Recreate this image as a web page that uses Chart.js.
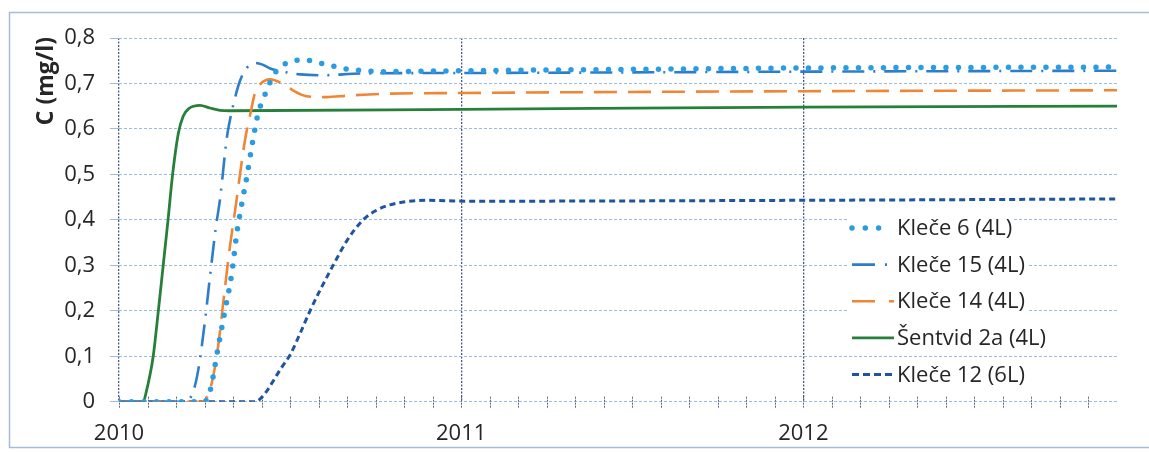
<!DOCTYPE html>
<html>
<head>
<meta charset="utf-8">
<script src="https://cdn.jsdelivr.net/npm/chart.js@4/dist/chart.umd.min.js"></script>
<style>
  html, body { margin: 0; padding: 0; background: #ffffff; }
  canvas { display: block; }
</style>
</head>
<body>
<canvas id="chart" width="1149" height="452"></canvas>
<script>
// Time axis is measured in months since 1 January 2010.
const yearLabels = ['2010', '2011', '2012'];
const yTickLabels = ['0', '0,1', '0,2', '0,3', '0,4', '0,5', '0,6', '0,7', '0,8'];
const seriesNames = ['Kleče 6 (4L)', 'Kleče 15 (4L)', 'Kleče 14 (4L)', 'Šentvid 2a (4L)', 'Kleče 12 (6L)'];

const klece6Months = [0, 3.0, 3.2, 3.45, 3.7, 3.95, 4.13, 4.32, 4.48, 4.71, 4.89, 5.06, 5.24, 5.45, 5.79, 6.24, 6.59, 7.05, 7.46, 7.87, 8.39, 9.33, 12, 18, 24, 35];
const klece6Conc   = [0, 0, 0.025, 0.11, 0.195, 0.28, 0.37, 0.44, 0.494, 0.58, 0.637, 0.666, 0.694, 0.721, 0.742, 0.751, 0.751, 0.745, 0.739, 0.733, 0.729, 0.726, 0.728, 0.731, 0.734, 0.736];

const klece15Months = [0, 2.32, 2.59, 2.78, 3.02, 3.19, 3.40, 3.54, 3.78, 3.86, 4.13, 4.25, 4.48, 4.77, 5.01, 5.3, 5.75, 6.35, 7.16, 8.46, 12, 24, 35];
const klece15Conc   = [0, 0, 0.02, 0.07, 0.18, 0.275, 0.385, 0.444, 0.58, 0.61, 0.683, 0.707, 0.734, 0.745, 0.742, 0.733, 0.726, 0.72, 0.718, 0.722, 0.723, 0.726, 0.728];

const klece14Months = [0, 2.90, 3.19, 3.45, 3.72, 3.89, 4.07, 4.42, 4.59, 4.77, 4.95, 5.18, 5.30, 5.77, 6.1, 6.58, 7.28, 7.99, 9.16, 12, 24, 35];
const klece14Conc   = [0, 0, 0.026, 0.11, 0.253, 0.341, 0.42, 0.576, 0.628, 0.679, 0.698, 0.708, 0.709, 0.698, 0.685, 0.672, 0.670, 0.673, 0.677, 0.679, 0.683, 0.685];

const sentvidMonths = [0, 0.85, 0.95, 1.2, 1.38, 1.55, 1.72, 1.88, 2.08, 2.25, 2.45, 2.84, 3.19, 3.54, 3.89, 12, 24, 35];
const sentvidConc   = [0, 0, 0.02, 0.1, 0.2, 0.3, 0.4, 0.5, 0.59, 0.628, 0.645, 0.652, 0.646, 0.641, 0.640, 0.643, 0.648, 0.650];

const klece12Months = [0, 4.77, 4.95, 5.2, 5.45, 5.7, 6.0, 6.35, 6.7, 7.09, 7.51, 8.0, 8.56, 9.0, 9.5, 10.09, 10.8, 11.5, 12.42, 24, 35];
const klece12Conc   = [0, 0, 0.006, 0.025, 0.05, 0.075, 0.103, 0.15, 0.2, 0.25, 0.3, 0.355, 0.4, 0.42, 0.433, 0.44, 0.443, 0.442, 0.441, 0.443, 0.446];

const toPoints = (xs, ys) => xs.map((x, i) => ({ x: x, y: ys[i] }));

const FONT = "'Open Sans', 'DejaVu Sans', sans-serif";
const TEXT = '#262626';

const lineBase = {
  pointRadius: 0,
  pointHoverRadius: 0,
  fill: false,
  cubicInterpolationMode: 'monotone',
  borderJoinStyle: 'round'
};

const datasets = [
  Object.assign({}, lineBase, {
    label: seriesNames[0],
    data: toPoints(klece6Months, klece6Conc),
    borderColor: '#2b9ce2',
    borderWidth: 5.5,
    borderDash: [0, 12.5],
    borderCapStyle: 'round',
    legendDash: [0, 13.3],
    legendLen: 28
  }),
  Object.assign({}, lineBase, {
    label: seriesNames[1],
    data: toPoints(klece15Months, klece15Conc),
    borderColor: '#2c7dcc',
    borderWidth: 2.6,
    borderDash: [22, 9, 2, 9],
    borderCapStyle: 'butt',
    legendDash: [23, 10, 2, 9],
    legendLen: 37
  }),
  Object.assign({}, lineBase, {
    label: seriesNames[2],
    data: toPoints(klece14Months, klece14Conc),
    borderColor: '#ef8636',
    borderWidth: 2.6,
    borderDash: [23, 11],
    borderCapStyle: 'butt',
    legendDash: [23, 14],
    legendLen: 42
  }),
  Object.assign({}, lineBase, {
    label: seriesNames[3],
    data: toPoints(sentvidMonths, sentvidConc),
    borderColor: '#26803a',
    borderWidth: 2.8,
    borderDash: [],
    borderCapStyle: 'butt',
    legendDash: [],
    legendLen: 42
  }),
  Object.assign({}, lineBase, {
    label: seriesNames[4],
    data: toPoints(klece12Months, klece12Conc),
    borderColor: '#1f559e',
    borderWidth: 3,
    borderDash: [6, 4],
    borderCapStyle: 'butt',
    legendDash: [7, 4],
    legendLen: 43
  })
];

// white page, outer chart frame
const framePlugin = {
  id: 'frame',
  beforeDraw(chart) {
    const ctx = chart.ctx;
    ctx.save();
    ctx.fillStyle = '#ffffff';
    ctx.fillRect(0, 0, chart.width, chart.height);
    ctx.strokeStyle = '#a6bcd8';
    ctx.lineWidth = 1.5;
    ctx.strokeRect(9.5, 12.5, chart.width + 20, 435);
    ctx.restore();
  }
};

// monthly tick marks crossing the time axis; year lines run a little below it
const monthTicksPlugin = {
  id: 'monthTicks',
  beforeDatasetsDraw(chart) {
    const x = chart.scales.x, y = chart.scales.y;
    const base = y.getPixelForValue(0);
    const ctx = chart.ctx;
    ctx.save();
    ctx.strokeStyle = '#5b6684';
    ctx.lineWidth = 1;
    ctx.setLineDash([2, 1]);
    for (let m = 0; m <= 34; m++) {
      const px = Math.round(x.getPixelForValue(m)) + 0.5;
      ctx.beginPath();
      ctx.moveTo(px, base - 5);
      ctx.lineTo(px, base + (m % 12 === 0 ? 7 : 6));
      ctx.stroke();
    }
    ctx.restore();
  }
};

// rotated axis title near the top of the value axis
const yTitlePlugin = {
  id: 'yTitle',
  afterDraw(chart) {
    const ctx = chart.ctx;
    ctx.save();
    ctx.translate(46, 81);
    ctx.rotate(-Math.PI / 2);
    ctx.font = 'bold 23px ' + FONT;
    ctx.fillStyle = TEXT;
    ctx.textAlign = 'center';
    ctx.textBaseline = 'middle';
    ctx.fillText('C (mg/l)', 0, 0);
    ctx.restore();
  }
};

// legend placed inside the plot area, right side
const insideLegendPlugin = {
  id: 'insideLegend',
  afterDatasetsDraw(chart) {
    const ctx = chart.ctx;
    const x0 = 852, textX = 897, firstRow = 228, rowGap = 36.6;
    ctx.save();
    ctx.font = '22px ' + FONT;
    chart.data.datasets.forEach((ds, i) => {
      const yRow = firstRow + i * rowGap;
      const w = ctx.measureText(ds.label).width;
      ctx.fillStyle = '#ffffff';
      ctx.fillRect(x0 - 5, yRow - 10, textX + w - x0 + 7, 20);
      ctx.beginPath();
      ctx.setLineDash(ds.legendDash);
      ctx.lineCap = ds.borderCapStyle;
      ctx.lineWidth = ds.borderWidth;
      ctx.strokeStyle = ds.borderColor;
      ctx.moveTo(x0, yRow);
      ctx.lineTo(x0 + ds.legendLen, yRow);
      ctx.stroke();
      ctx.setLineDash([]);
      ctx.fillStyle = TEXT;
      ctx.textAlign = 'left';
      ctx.textBaseline = 'middle';
      ctx.fillText(ds.label, textX, yRow + 1);
    });
    ctx.restore();
  }
};

Chart.defaults.font.family = FONT;
Chart.defaults.font.size = 22;
Chart.defaults.color = TEXT;

new Chart(document.getElementById('chart'), {
  type: 'line',
  data: { datasets: datasets },
  options: {
    responsive: false,
    animation: false,
    devicePixelRatio: 1,
    layout: { padding: { left: 0, top: 38, right: 32, bottom: 0 } },
    plugins: {
      legend: { display: false },
      tooltip: { enabled: false }
    },
    scales: {
      x: {
        type: 'linear',
        min: 0,
        max: 35,
        afterFit(scale) { scale.height = 50.3; },
        afterBuildTicks(scale) {
          const t = [];
          for (let m = 0; m <= 35; m++) t.push({ value: m });
          scale.ticks = t;
        },
        ticks: {
          autoSkip: false,
          maxRotation: 0,
          padding: 19,
          callback: (v) => (v % 12 === 0 ? yearLabels[v / 12] : '')
        },
        grid: {
          drawTicks: false,
          lineWidth: 1.3,
          color: (c) => (c.tick && c.tick.value % 12 === 0 ? '#4b5888' : 'rgba(0,0,0,0)')
        },
        border: { display: false, dash: [2, 1.5] }
      },
      y: {
        min: 0,
        max: 0.8,
        afterFit(scale) { scale.width = 119; },
        ticks: {
          stepSize: 0.1,
          padding: 15,
          callback: (v, i) => yTickLabels[i]
        },
        grid: {
          tickLength: 9,
          lineWidth: 1,
          color: '#9dbbe0'
        },
        border: { display: false, dash: [3, 2] }
      }
    }
  },
  plugins: [framePlugin, monthTicksPlugin, yTitlePlugin, insideLegendPlugin]
});
</script>
</body>
</html>
